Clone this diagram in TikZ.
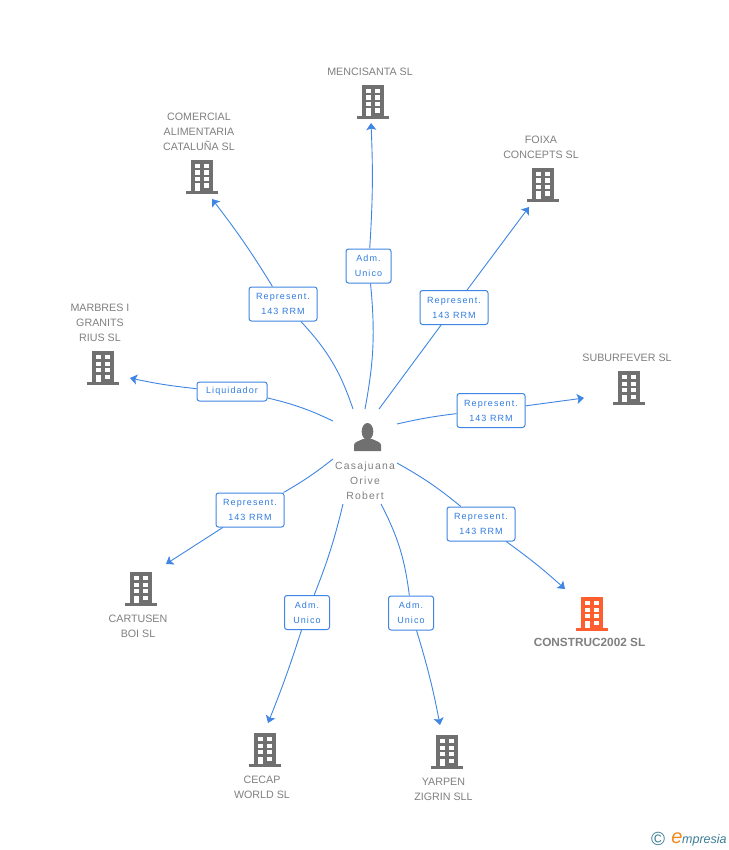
\documentclass[tikz,border=0pt]{standalone}
\usepackage{fontspec}
\usepackage{xcolor}
\setmainfont{Liberation Sans}
\newfontfamily\spacedfont[LetterSpace=12]{Liberation Sans}
\usetikzlibrary{arrows.meta}
\definecolor{linkblue}{HTML}{3F86E4}
\definecolor{boxblue}{HTML}{2F7BE0}
\definecolor{bldggrey}{HTML}{707070}
\definecolor{textgrey}{HTML}{808080}
\definecolor{bldgorange}{HTML}{FF5F2E}
\definecolor{logoteal}{HTML}{3C7D96}
\definecolor{logoorange}{HTML}{F08A1D}
\tikzset{
	role/.style={draw=linkblue, line width=1pt, rounded corners=2.5pt, fill=white, text=boxblue, align=center, font=\spacedfont\fontsize{9}{15}\selectfont, inner sep=0pt},
	repbox/.style={role, minimum width=68pt, minimum height=34pt},
	admbox/.style={role, minimum width=45pt, minimum height=34pt},
	liqbox/.style={role, minimum width=70pt, minimum height=19pt},
	link/.style={draw=linkblue, line width=.9pt},
	linkarrow/.style={link, -{Stealth[length=7pt,width=10pt,inset=1.5pt]}},
	company/.style={text=textgrey, align=center, font=\fontsize{10.7}{15}\selectfont, inner sep=0pt},
	pics/bldg/.style={code={
		\fill[#1] (-11,-34) rectangle (11,-2);
		\fill[#1] (-16,-3) rectangle (16,0);
		\fill[white] (-7.3,-30) rectangle (-2.3,-26.2);
		\fill[white] (2.3,-30) rectangle (7.3,-26.2);
		\fill[white] (-7.3,-23.5) rectangle (-2.3,-19.3);
		\fill[white] (2.3,-23.5) rectangle (7.3,-19.3);
		\fill[white] (-7.3,-17) rectangle (-2.3,-12.8);
		\fill[white] (2.3,-17) rectangle (7.3,-12.8);
		\fill[white] (-7.3,-10.5) rectangle (-2.3,-3);
		\fill[white] (2.3,-10.5) rectangle (7.3,-6.3);
	}}
}
\begin{document}
\begin{tikzpicture}[x=1pt,y=-1pt]
	\useasboundingbox[fill=white] (0,0) rectangle (728,850);

	\pic (mencisanta) at (373,119) {bldg=bldggrey};
	\pic (comercial) at (202,194) {bldg=bldggrey};
	\pic (foixa) at (543,202) {bldg=bldggrey};
	\pic (suburfever) at (629,405) {bldg=bldggrey};
	\pic (marbres) at (103,385) {bldg=bldggrey};
	\pic (cartusen) at (141,606) {bldg=bldggrey};
	\pic (construc) at (592,631) {bldg=bldgorange};
	\pic (cecap) at (265,767) {bldg=bldggrey};
	\pic (yarpen) at (447,769) {bldg=bldggrey};

	\node[company] (lblmencisanta) at (370,71.5) {MENCISANTA SL};
	\node[company] (lblcomercial) at (199,131.5) {COMERCIAL\\ALIMENTARIA\\CATALUÑA SL};
	\node[company] (lblfoixa) at (541,147) {FOIXA\\CONCEPTS SL};
	\node[company] (lblsuburfever) at (627,357.5) {SUBURFEVER SL};
	\node[company] (lblmarbres) at (100,322.5) {MARBRES I\\GRANITS\\RIUS SL};
	\node[company] (lblcartusen) at (138,626) {CARTUSEN\\BOI SL};
	\node[company, font=\bfseries\fontsize{11.8}{15}\selectfont] (lblconstruc) at (589.5,642.5) {CONSTRUC2002 SL};
	\node[company] (lblcecap) at (262,787) {CECAP\\WORLD SL};
	\node[company] (lblyarpen) at (443.5,789) {YARPEN\\ZIGRIN SLL};

	\fill[bldggrey] (367.5,431.5) ellipse (5.8 and 8.5);
	\fill[bldggrey] (354,451) -- (354,445) .. controls (354,442) and (359,441) .. (363,439) -- (372,439) .. controls (376,441) and (381,442) .. (381,445) -- (381,451) -- cycle;
	\node[company, font=\spacedfont\fontsize{10.4}{15}\selectfont] (person) at (365,480.5) {Casajuana\\Orive\\Robert};

	\coordinate (sadm) at (365,409);
	\coordinate (srepa) at (353,409);
	\coordinate (srepb) at (379,409);
	\coordinate (srepc) at (397,424);
	\coordinate (sliq) at (333,421);
	\coordinate (srepd) at (333,459);
	\coordinate (srepe) at (397,463);
	\coordinate (sadmb) at (343,504);
	\coordinate (sadmc) at (381,504);

	\coordinate (tipmencisanta) at (371,123);
	\coordinate (tipcomercial) at (212,199);
	\coordinate (tipfoixa) at (529,207);
	\coordinate (tipsuburfever) at (584,398);
	\coordinate (tipmarbres) at (130,378);
	\coordinate (tipcartusen) at (166,564);
	\coordinate (tipconstruc) at (565,589);
	\coordinate (tipcecap) at (268,723);
	\coordinate (tipyarpen) at (440,725);

	\node[admbox] (admtop) at (368.5,266) {Adm.\\Unico};
	\node[repbox] (repcomercial) at (283,304) {Represent.\\143 RRM};
	\node[repbox] (repfoixa) at (454,307.5) {Represent.\\143 RRM};
	\node[repbox] (repsuburfever) at (491,410.5) {Represent.\\143 RRM};
	\node[liqbox] (liqmarbres) at (232,391.5) {Liquidador};
	\node[repbox] (repcartusen) at (250,510) {Represent.\\143 RRM};
	\node[repbox] (repconstruc) at (481,524) {Represent.\\143 RRM};
	\node[admbox] (admcecap) at (307,612.5) {Adm.\\Unico};
	\node[admbox] (admyarpen) at (411,613) {Adm.\\Unico};

	\draw[link] (sadm) to[bend right=8] (admtop);
	\draw[linkarrow] (admtop) to[bend right=3] (tipmencisanta);
	\draw[link] (srepa) to[bend right=12] (repcomercial);
	\draw[linkarrow] (repcomercial) to[bend right=3] (tipcomercial);
	\draw[link] (srepb) -- (repfoixa);
	\draw[linkarrow] (repfoixa) -- (tipfoixa);
	\draw[link] (srepc) to[bend left=3] (repsuburfever);
	\draw[linkarrow] (repsuburfever) -- (tipsuburfever);
	\draw[link] (sliq) to[bend right=6] (liqmarbres);
	\draw[linkarrow] (liqmarbres) to[bend left=3] (tipmarbres);
	\draw[link] (srepd) to[bend left=4] (repcartusen);
	\draw[linkarrow] (repcartusen) -- (tipcartusen);
	\draw[link] (srepe) to[bend left=5] (repconstruc);
	\draw[linkarrow] (repconstruc) to[bend left=3] (tipconstruc);
	\draw[link] (sadmb) to[bend left=4] (admcecap);
	\draw[linkarrow] (admcecap) to[bend left=2] (tipcecap);
	\draw[link] (sadmc) to[bend left=10] (admyarpen);
	\draw[linkarrow] (admyarpen) to[bend left=3] (tipyarpen);

	\node[text=logoteal, font=\fontsize{19}{19}\selectfont, inner sep=0pt] (logoc) at (658,839) {©};
	\node[text=logoorange, font=\itshape\fontsize{20}{20}\selectfont, inner sep=0pt] (logoe) at (677,838) {e};
	\node[text=logoteal, font=\itshape\fontsize{12.5}{12.5}\selectfont, inner sep=0pt, anchor=base west] (logotext) at (682,843) {mpresia};
\end{tikzpicture}
\end{document}
